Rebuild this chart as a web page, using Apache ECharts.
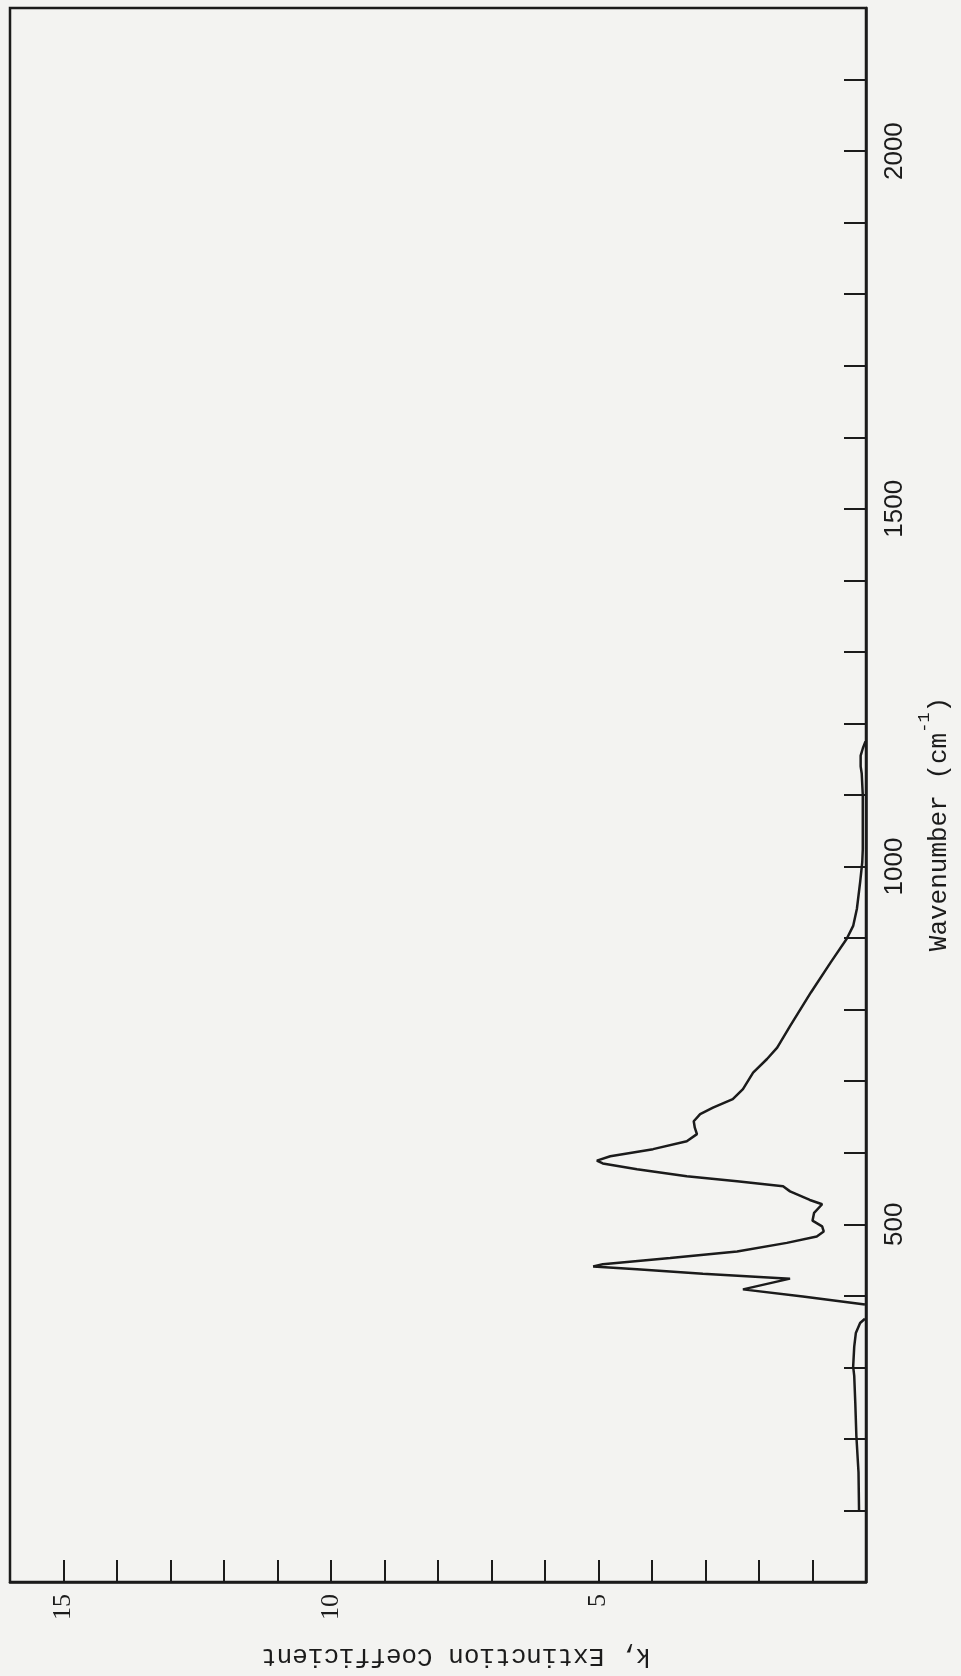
<!DOCTYPE html>
<html>
<head>
<meta charset="utf-8">
<script src="https://cdn.jsdelivr.net/npm/echarts@6/dist/echarts.min.js"></script>
<style>
  html, body { margin: 0; padding: 0; background: #f3f3f1; }
  #chart { width: 961px; height: 1676px; }
</style>
</head>
<body>
<div id="chart"></div>
<script>
// Low-wavenumber branch (cm^-1) and extinction coefficient k
const waveLow = [100, 153, 204, 250, 288, 301, 329, 348, 362, 368];
const kLow    = [0.13, 0.14, 0.18, 0.20, 0.22, 0.24, 0.22, 0.19, 0.11, 0.02];

// Main branch
const waveMain = [388, 399, 409, 424, 431, 437, 441, 444, 453, 462, 474, 483, 490, 497, 505, 516, 528, 534,
  546, 553, 560, 567, 577, 585, 589, 595, 605, 616, 626, 635, 644, 654, 663, 675, 689, 712, 731, 747,
  777, 824, 866, 899, 917, 941, 978, 1006, 1024, 1060, 1100, 1130, 1140, 1155, 1165, 1175];
const kMain    = [0.02, 1.18, 2.30, 1.42, 3.05, 4.28, 5.10, 4.92, 3.66, 2.41, 1.48, 0.92, 0.79, 0.82, 1.00, 0.97, 0.82, 1.05,
  1.42, 1.55, 2.41, 3.35, 4.28, 4.92, 5.03, 4.78, 3.98, 3.35, 3.16, 3.20, 3.22, 3.10, 2.86, 2.49, 2.30, 2.11, 1.85, 1.66,
  1.42, 1.03, 0.66, 0.36, 0.24, 0.17, 0.11, 0.07, 0.06, 0.06, 0.06, 0.08, 0.10, 0.10, 0.06, 0.01];

const kTickLabels = [5, 10, 15];
const waveTickLabels = [500, 1000, 1500, 2000];

const ink = '#1b1b1b';
const pairs = (ws, ks) => ws.map((w, i) => [ks[i], w]);

const chart = echarts.init(document.getElementById('chart'), null, { renderer: 'canvas' });
chart.setOption({
  backgroundColor: '#f3f3f1',
  animation: false,
  grid: { left: 10, top: 8, right: 95, bottom: 94, show: true, borderColor: ink, borderWidth: 2.5 },
  xAxis: {
    type: 'value', position: 'bottom', inverse: true, min: 0, max: 16, interval: 1,
    axisLine: { show: true, lineStyle: { color: ink, width: 2.5 } },
    axisTick: { show: true, inside: true, length: 22, lineStyle: { color: ink, width: 2 } },
    splitLine: { show: false },
    axisLabel: {
      rotate: 90, margin: 12, color: ink, fontFamily: 'Liberation Serif', fontSize: 26,
      formatter: v => kTickLabels.includes(v) ? String(v) : ''
    },
    name: 'k, Extinction Coefficient', nameLocation: 'middle', nameGap: 61, nameRotate: 180,
    nameTextStyle: { color: ink, fontFamily: 'Liberation Mono', fontSize: 26, padding: [0, 36, 0, 0] }
  },
  yAxis: {
    type: 'value', position: 'right', min: 0, max: 2200, interval: 100,
    axisLine: { show: true, lineStyle: { color: ink, width: 2.5 } },
    axisTick: { show: true, inside: true, length: 22, lineStyle: { color: ink, width: 2 } },
    splitLine: { show: false },
    axisLabel: {
      rotate: 90, margin: 16, color: ink, fontFamily: 'Liberation Sans', fontSize: 26,
      formatter: v => waveTickLabels.includes(v) ? String(v) : ''
    },
    name: '{a|Wavenumber (cm}{s|-1}{a|)}', nameLocation: 'middle', nameGap: 50, nameRotate: 90,
    nameTextStyle: {
      color: ink, padding: [0, 58, 0, 0],
      rich: {
        a: { fontFamily: 'Liberation Mono', fontSize: 26, color: ink, lineHeight: 36, verticalAlign: 'bottom' },
        s: { fontFamily: 'Liberation Mono', fontSize: 17, color: ink, lineHeight: 36, verticalAlign: 'top' }
      }
    }
  },
  series: [
    { type: 'line', data: pairs(waveLow, kLow), showSymbol: false, lineStyle: { color: ink, width: 2.5 } },
    { type: 'line', data: pairs(waveMain, kMain), showSymbol: false, lineStyle: { color: ink, width: 2.5 } }
  ]
});
</script>
</body>
</html>
